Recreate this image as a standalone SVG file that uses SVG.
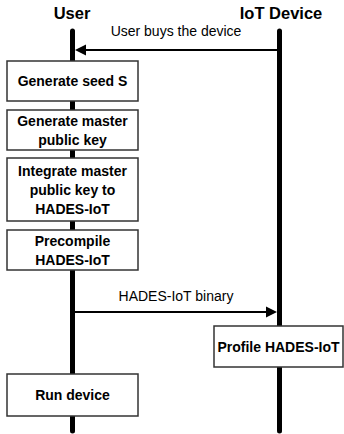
<svg xmlns="http://www.w3.org/2000/svg" width="344" height="434" viewBox="0 0 344 434">
<style>
.life{stroke:#000;stroke-width:5;stroke-linecap:round;fill:none}
.msg{stroke:#000;stroke-width:2;fill:none}
.box{fill:#fff;stroke:#333;stroke-width:1.5}
.title{font-family:"Liberation Sans",Arial,sans-serif;font-weight:bold;font-size:16.5px;fill:#000;text-anchor:middle}
.bt{font-family:"Liberation Sans",Arial,sans-serif;font-weight:bold;font-size:14px;fill:#000;text-anchor:middle}
.lbl{font-family:"Liberation Sans",Arial,sans-serif;font-size:14px;fill:#000;text-anchor:middle}
</style>
<rect width="344" height="434" fill="#fff"/>
<g id="lifelines">
<text class="title" x="72" y="19">User</text>
<text class="title" x="281" y="19">IoT Device</text>
<line class="life" x1="72.5" y1="31" x2="72.5" y2="431"/>
<line class="life" x1="279.5" y1="31" x2="279.5" y2="431"/>
</g>
<g id="connectors">
<line class="msg" x1="279" y1="50" x2="84" y2="50"/>
<polygon points="75,50 86,44.5 86,55.5" fill="#000"/>
<text class="lbl" x="176" y="36">User buys the device</text>
<line class="msg" x1="73" y1="312" x2="268" y2="312"/>
<polygon points="277,312 266,306.5 266,317.5" fill="#000"/>
<text class="lbl" x="176" y="301">HADES-IoT binary</text>
</g>
<g id="n1"><rect class="box" x="7" y="61" width="131" height="40"/><text class="bt" x="72.5" y="86">Generate seed S</text></g>
<g id="n2"><rect class="box" x="7" y="110" width="131" height="40"/><text class="bt" x="72.5" y="126">Generate master</text><text class="bt" x="72.5" y="145">public key</text></g>
<g id="n3"><rect class="box" x="7" y="158" width="131" height="63"/><text class="bt" x="72.5" y="176">Integrate master</text><text class="bt" x="72.5" y="195">public key to</text><text class="bt" x="72.5" y="214">HADES-IoT</text></g>
<g id="n4"><rect class="box" x="7" y="230" width="131" height="40"/><text class="bt" x="72.5" y="246">Precompile</text><text class="bt" x="72.5" y="265">HADES-IoT</text></g>
<g id="n5"><rect class="box" x="214" y="326" width="129" height="41"/><text class="bt" x="278.5" y="351.5">Profile HADES-IoT</text></g>
<g id="n6"><rect class="box" x="7" y="374" width="131" height="42"/><text class="bt" x="72.5" y="400">Run device</text></g>
</svg>
